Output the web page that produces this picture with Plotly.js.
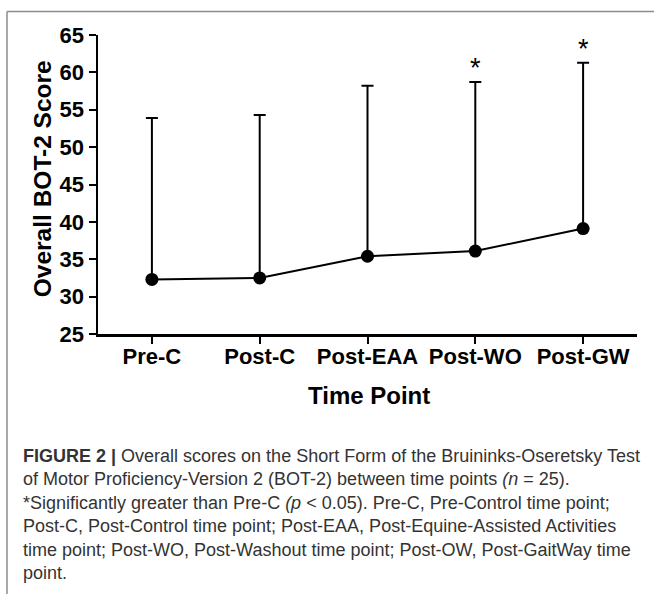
<!DOCTYPE html>
<html><head><meta charset="utf-8">
<script src="https://cdn.plot.ly/plotly-3.0.1.min.js"></script>
<style>html,body{margin:0;padding:0;background:#fff;} #chart{width:654px;height:594px;}</style>
</head><body><div id="chart"></div>
<script>
// ---- data ----
const timePoints = ['Pre-C', 'Post-C', 'Post-EAA', 'Post-WO', 'Post-GW'];
const meanScores = [32.3, 32.5, 35.4, 36.1, 39.1];
const sdScores   = [21.6, 21.8, 22.8, 22.6, 22.2];
const significant = [false, false, false, true, true];
const yTickVals = [25, 30, 35, 40, 45, 50, 55, 60, 65];
const yTitle = 'Overall BOT-2 Score';
const xTitle = 'Time Point';
const captionLines = [
  '<b>FIGURE 2 |</b> Overall scores on the Short Form of the Bruininks-Oseretsky Test',
  'of Motor Proficiency-Version 2 (BOT-2) between time points <i>(n</i> = 25).',
  '*Significantly greater than Pre-C <i>(p</i> &lt; 0.05). Pre-C, Pre-Control time point;',
  'Post-C, Post-Control time point; Post-EAA, Post-Equine-Assisted Activities',
  'time point; Post-WO, Post-Washout time point; Post-OW, Post-GaitWay time',
  'point.'
];

// ---- layout geometry ----
const W = 654, H = 594;
const M = {l: 98, r: 17, t: 34.5, b: 260};
const pw = W - M.l - M.r, ph = H - M.t - M.b;
const px = x => (x - M.l) / pw;          // pixel -> paper x
const py = y => 1 - (y - M.t) / ph;      // pixel -> paper y

const font = 'Arial, "Liberation Sans", Helvetica, sans-serif';

const trace = {
  type: 'scatter',
  mode: 'lines+markers',
  x: timePoints,
  y: meanScores,
  line: {color: '#000', width: 2},
  marker: {color: '#000', size: 13},
  error_y: {
    type: 'data', symmetric: false,
    array: sdScores,
    arrayminus: sdScores.map(() => 0),
    color: '#000', thickness: 2, width: 6
  },
  hoverinfo: 'skip'
};

const annotations = [];
timePoints.forEach((t, i) => {
  if (significant[i]) {
    annotations.push({
      x: t, y: meanScores[i] + sdScores[i], xref: 'x', yref: 'y',
      text: '*', showarrow: false, yanchor: 'middle', yshift: 14,
      font: {family: font, size: 27, color: '#000'}
    });
  }
});
annotations.push({
  xref: 'paper', yref: 'paper', x: px(42), y: py(179), xanchor: 'center', yanchor: 'middle',
  textangle: -90, showarrow: false, text: '<b>' + yTitle + '</b>',
  font: {family: font, size: 24.5, color: '#000'}
});
annotations.push({
  xref: 'paper', yref: 'paper', x: px(369), y: py(396), xanchor: 'center', yanchor: 'middle',
  showarrow: false, text: '<b>' + xTitle + '</b>',
  font: {family: font, size: 24, color: '#000'}
});
annotations.push({
  xref: 'paper', yref: 'paper', x: px(21), y: py(444), xanchor: 'left', yanchor: 'top',
  align: 'left', showarrow: false, text: captionLines.join('<br>'),
  font: {family: font, size: 18, color: '#333'}
});

const layout = {
  width: W, height: H,
  margin: M,
  paper_bgcolor: '#fff', plot_bgcolor: '#fff',
  showlegend: false,
  xaxis: {
    type: 'category', range: [-0.5, 4.5],
    showline: true, linecolor: '#000', linewidth: 2.5,
    ticks: 'outside', ticklen: 7, tickwidth: 2, tickcolor: '#000',
    ticklabelstandoff: -6,
    showgrid: false, zeroline: false, fixedrange: true,
    tickfont: {family: font, size: 22, color: '#000', weight: 'bold'}
  },
  yaxis: {
    range: [25, 65], tickvals: yTickVals, ticktext: yTickVals.map(String),
    showline: true, linecolor: '#000', linewidth: 2.5,
    ticks: 'outside', ticklen: 7, tickwidth: 2, tickcolor: '#000',
    showgrid: false, zeroline: false, fixedrange: true,
    tickfont: {family: font, size: 22, color: '#000', weight: 'bold'}
  },
  shapes: [
    {type: 'line', xref: 'paper', yref: 'paper', x0: px(7), x1: px(W + 2), y0: py(11), y1: py(11),
     line: {color: '#8c8c8c', width: 1.5}},
    {type: 'line', xref: 'paper', yref: 'paper', x0: px(7), x1: px(7), y0: py(11), y1: py(H + 2),
     line: {color: '#8c8c8c', width: 1.5}}
  ],
  annotations: annotations
};

Plotly.newPlot('chart', [trace], layout, {displayModeBar: false, staticPlot: true});
</script>
</body></html>
